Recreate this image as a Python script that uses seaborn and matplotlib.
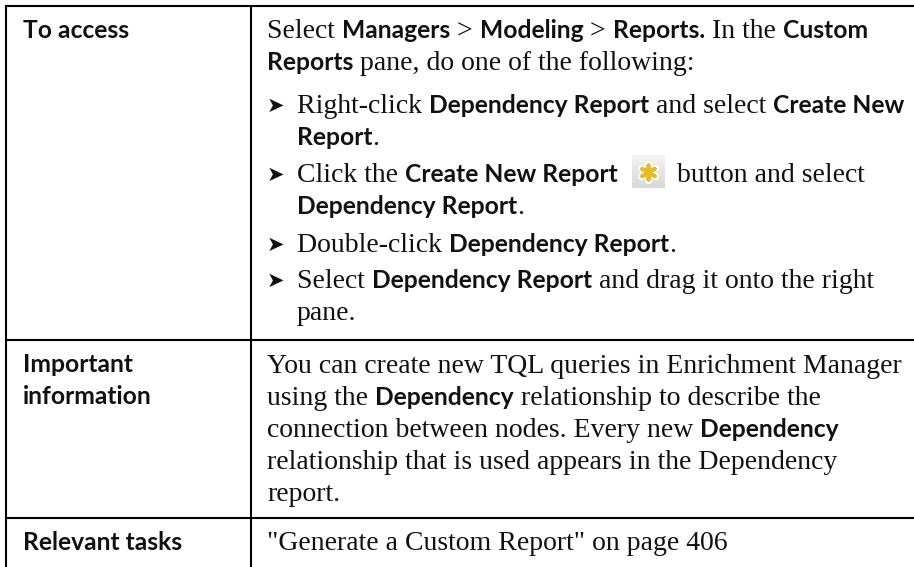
import numpy as np
import matplotlib.pyplot as plt
import seaborn as sns

# Table content. **word** marks the bold runs, @ is where the icon sits
LABELS = ['To access', 'Important', 'information', 'Relevant tasks']
ACCESS = [
    'Select **Managers** > **Modeling** > **Reports.** In the **Custom**',
    '**Reports** pane, do one of the following:',
]
BULLETS = [
    'Right-click **Dependency Report** and select **Create New**',
    '**Report**.',
    'Click the **Create New Report** @ button and select',
    '**Dependency Report**.',
    'Double-click **Dependency Report**.',
    'Select **Dependency Report** and drag it onto the right',
    'pane.',
]
BULLET_START = [True, False, True, False, True, True, False]
INFO = [
    'You can create new TQL queries in Enrichment Manager',
    'using the **Dependency** relationship to describe the',
    'connection between nodes. Every new **Dependency**',
    'relationship that is used appears in the Dependency',
    'report.',
]
TASKS = ['"Generate a Custom Report" on page 406']

# Layout in pixels
LABEL_Y = [38, 372, 404, 550]
ACCESS_Y = [38, 70]
BULLET_Y = [113, 145, 182, 214, 252, 288, 320]
INFO_Y = [373, 405, 437, 469, 501]
TASK_Y = [550]
H_RULES = [6, 340, 518]
V_RULES = [6, 250.5]

SERIF = 'Liberation Serif'
SANS = 'Lato'
SERIF_SIZE = 20
SANS_SIZE = 17.7

sns.set_theme(style='white')
fig, ax = plt.subplots(figsize=(9.14, 5.67), dpi=100)
ax.set_position([0, 0, 1, 1])
ax.set_axis_off()


def text_width(s, **kw):
    # a bar on the end so trailing spaces count
    renderer = fig.canvas.get_renderer()
    t1 = ax.text(0, 0, s + '|', **kw)
    t2 = ax.text(0, 0, '|', **kw)
    w = t1.get_window_extent(renderer).width - t2.get_window_extent(renderer).width
    t1.remove()
    t2.remove()
    return w


def draw_icon(x, y):
    grad = np.linspace(0.95, 0.85, 32).reshape(-1, 1)
    ax.imshow(grad, cmap='gray', vmin=0, vmax=1, aspect='auto',
              extent=(x, x + 33, y + 16.5, y - 16.5), zorder=1)
    sns.scatterplot(x=[x + 16.5], y=[y], marker=(6, 2, 0), s=135, color='#fbfbf4',
                    linewidth=5, edgecolor='#fbfbf4', ax=ax, zorder=2)
    sns.scatterplot(x=[x + 16.5], y=[y], marker=(6, 2, 0), s=105, color='#e8bb2a',
                    linewidth=2.8, edgecolor='#e8bb2a', ax=ax, zorder=3)


def draw_line(line, x, y):
    for i, run in enumerate(line.split('**')):
        if i % 2:
            kw = dict(family=SANS, weight='bold', size=SANS_SIZE, color='#111111')
        else:
            kw = dict(family=SERIF, size=SERIF_SIZE, color='#111111')
        parts = run.split('@')
        for j, part in enumerate(parts):
            if j:
                x += 7
                draw_icon(x, 172)
                x += 38
            ax.text(x, y, part, va='baseline', ha='left', **kw)
            x += text_width(part, **kw)


# Rules of the table
for y in H_RULES:
    sns.lineplot(x=[5, 914], y=[y, y], color='black', linewidth=1.5, ax=ax,
                 estimator=None, solid_capstyle='butt')
for x in V_RULES:
    sns.lineplot(x=[x, x], y=[5, 567], color='black', linewidth=1.5, ax=ax,
                 estimator=None, solid_capstyle='butt')

for label, y in zip(LABELS, LABEL_Y):
    draw_line('**' + label + '**', 23, y)
for line, y in zip(ACCESS, ACCESS_Y):
    draw_line(line, 267, y)
for line, y, start in zip(BULLETS, BULLET_Y, BULLET_START):
    if start:
        ax.text(267, y - 1, '\u27a4', family='DejaVu Sans', size=15, color='#111111', va='baseline')
    draw_line(line, 297, y)
for line, y in zip(INFO, INFO_Y):
    draw_line(line, 267, y)
for line, y in zip(TASKS, TASK_Y):
    draw_line(line, 267, y)

ax.set_xlim(0, 914)
ax.set_ylim(567, 0)
fig.savefig('out.png', dpi=100, facecolor='white')
